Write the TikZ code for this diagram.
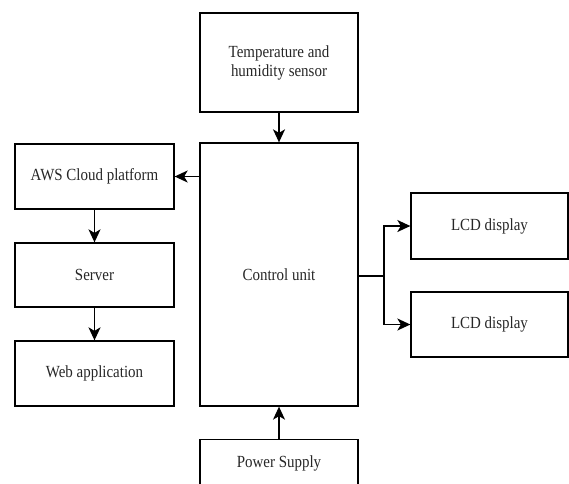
\documentclass[tikz,border=0pt]{standalone}
\usepackage{fontspec}
\setmainfont{Liberation Serif}[FakeStretch=0.88]
\usetikzlibrary{arrows.meta}
\begin{document}
\begin{tikzpicture}[x=1pt,y=-1pt,
  txt/.style={font=\fontsize{17}{19}\selectfont, align=center, text=black!85},
  box/.style={draw, line width=1.3pt, inner sep=0pt, txt},
  arr/.style={line width=1.5pt, -{Stealth[length=13pt,width=12pt,inset=3.5pt]}}]
\useasboundingbox (0,0) rectangle (569,483);
\begin{scope}
\clip (0,0) rectangle (569,483);
\node[box, minimum width=158pt, minimum height=99pt] (temp) at (279,62.5) {Temperature and\\humidity sensor};
\node[box, minimum width=158pt, minimum height=263pt] (ctrl) at (279,274.5) {Control unit};
\node[box, minimum width=159pt, minimum height=65pt] (aws) at (94.5,176.5) {AWS Cloud platform};
\node[box, minimum width=159pt, minimum height=64pt] (srv) at (94.5,275) {Server};
\node[box, minimum width=159pt, minimum height=65pt] (web) at (94.5,373.5) {Web application};
\node[box, minimum width=157pt, minimum height=66pt] (lcd1) at (489.5,226) {LCD display};
\node[box, minimum width=157pt, minimum height=65pt] (lcd2) at (489.5,324.5) {LCD display};
\node[box, minimum width=158pt, minimum height=80pt, anchor=north] (pwr) at (279,439) {};
\node[txt] (pwrtxt) at (279,463) {Power Supply};
\end{scope}
\coordinate (br) at (384,276);
\draw[arr] (temp.south) -- (ctrl.north);
\draw[arr] (ctrl.west |- aws.east) -- (aws.east);
\draw[arr] (aws.south) -- (srv.north);
\draw[arr] (srv.south) -- (web.north);
\draw[arr] (pwr.north) -- (ctrl.south);
\draw[line width=1.5pt] (ctrl.east |- br) -- (br);
\draw[arr] (br) |- (lcd1.west);
\draw[arr] (br) |- (lcd2.west);
\end{tikzpicture}
\end{document}
